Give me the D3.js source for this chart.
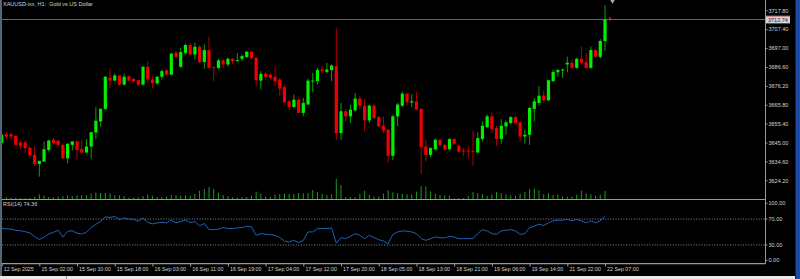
<!DOCTYPE html>
<html>
<head>
<meta charset="utf-8">
<script src="https://cdn.jsdelivr.net/npm/d3@7"></script>
<style>
  html, body { margin: 0; padding: 0; background: #000; }
  svg { display: block; }
  text { font-family: "Liberation Sans", Arial, sans-serif; font-size: 5.5px; fill: #d4d4d4; white-space: pre; }
</style>
</head>
<body>
<div class="plot"></div>
<script>
// XAUUSD H1 candles
var opens = [3644.7,3649.6,3649.6,3648.7,3645.0,3645.0,3642.2,3638.2,3633.2,3634.5,
  3640.9,3646.5,3645.9,3643.7,3636.3,3643.7,3645.6,3641.5,3639.5,3642.8,
  3650.5,3656.6,3663.5,3680.6,3679.1,3681.9,3676.9,3681.5,3680.1,3679.3,
  3676.9,3686.7,3679.7,3677.5,3681.2,3684.8,3682.4,3694.4,3686.7,3694.4,
  3698.7,3693.5,3697.7,3689.3,3695.9,3686.5,3686.1,3690.2,3688.0,3691.1,
  3689.8,3691.1,3692.0,3695.0,3691.7,3679.1,3682.8,3682.4,3681.2,3679.7,
  3675.5,3667.7,3664.6,3668.6,3661.3,3665.9,3678.8,3678.8,3685.2,3683.9,
  3684.9,3687.1,3650.2,3662.2,3659.4,3662.7,3669.2,3665.3,3657.2,3665.3,
  3659.0,3654.2,3652.0,3637.7,3659.4,3665.3,3671.9,3667.0,3667.7,3663.5,
  3642.8,3638.2,3641.3,3646.5,3643.7,3641.3,3646.9,3643.2,3640.6,3640.6,
  3640.4,3639.5,3646.9,3653.5,3659.4,3652.9,3646.9,3653.9,3655.7,3659.0,
  3656.1,3648.3,3649.3,3663.5,3666.8,3670.8,3668.3,3678.8,3683.7,3684.7,
  3688.0,3688.9,3686.1,3691.1,3689.3,3686.1,3695.9,3692.2,3700.9];
var highs = [3649.5,3650.7,3650.2,3649.0,3646.1,3646.1,3642.8,3642.8,3634.9,3645.6,
  3646.5,3647.4,3646.5,3644.6,3644.6,3645.6,3646.5,3646.5,3646.9,3650.7,
  3664.4,3663.6,3681.5,3685.8,3683.0,3681.9,3683.0,3681.9,3680.6,3679.7,
  3687.1,3689.8,3681.5,3681.5,3685.2,3685.2,3694.4,3695.4,3697.2,3699.4,
  3700.0,3700.0,3698.5,3699.0,3703.3,3687.1,3691.1,3691.1,3691.7,3691.7,
  3694.4,3693.5,3695.4,3695.4,3692.0,3684.3,3683.7,3683.0,3686.5,3680.6,
  3676.9,3668.6,3671.4,3669.5,3669.5,3680.1,3683.4,3686.1,3687.6,3688.9,
  3688.0,3707.9,3666.8,3663.5,3665.9,3672.3,3670.8,3668.6,3665.9,3665.9,
  3659.4,3659.4,3652.4,3660.3,3666.8,3673.2,3672.3,3671.4,3672.7,3664.0,
  3646.5,3642.4,3647.4,3646.9,3644.3,3647.4,3647.4,3643.7,3641.9,3643.2,
  3651.5,3650.6,3656.6,3660.3,3661.6,3654.2,3657.9,3657.0,3659.4,3659.4,
  3656.6,3652.0,3664.6,3669.5,3676.0,3673.8,3679.7,3685.2,3685.6,3685.6,
  3692.2,3690.7,3691.7,3697.8,3694.1,3697.8,3696.3,3702.0,3720.6];
var lows = [3644.5,3647.0,3646.9,3643.5,3641.3,3639.1,3636.4,3632.1,3626.2,3634.3,
  3640.0,3643.7,3642.8,3636.3,3633.6,3640.6,3635.8,3639.1,3639.1,3636.3,
  3646.9,3653.9,3663.0,3675.1,3678.8,3676.4,3676.4,3678.8,3678.2,3676.0,
  3676.4,3677.8,3675.1,3676.9,3679.7,3681.9,3681.9,3691.7,3686.1,3693.5,
  3692.6,3690.7,3688.5,3685.6,3685.8,3678.8,3685.2,3686.1,3686.7,3688.0,
  3689.8,3689.8,3691.7,3691.3,3676.0,3674.2,3679.7,3679.7,3676.0,3670.5,
  3666.8,3662.7,3664.0,3661.3,3659.4,3665.9,3672.7,3676.9,3683.0,3683.0,
  3678.8,3646.5,3646.5,3656.6,3655.7,3662.2,3663.1,3651.1,3655.7,3657.9,
  3653.5,3650.2,3634.0,3635.4,3653.9,3664.6,3665.3,3664.6,3662.7,3627.7,
  3634.5,3636.9,3640.6,3643.2,3640.6,3640.6,3643.7,3639.5,3637.7,3636.4,
  3632.1,3639.1,3645.6,3652.9,3650.2,3643.2,3644.3,3649.3,3654.8,3655.4,
  3645.6,3644.3,3643.7,3656.6,3665.3,3666.8,3667.7,3678.2,3681.2,3680.6,
  3683.7,3685.6,3685.6,3688.0,3685.6,3685.6,3691.7,3691.2,3695.5];
var closes = [3649.3,3648.3,3648.3,3643.7,3643.2,3641.9,3638.0,3633.2,3634.9,3641.3,
  3646.1,3644.6,3643.7,3636.3,3644.3,3645.6,3641.0,3639.5,3642.8,3650.7,
  3657.0,3663.6,3681.2,3679.1,3681.9,3676.9,3681.2,3679.1,3678.8,3676.9,
  3686.7,3679.7,3677.8,3681.2,3684.3,3682.4,3693.9,3692.2,3694.8,3698.7,
  3693.5,3697.7,3689.3,3695.9,3686.1,3686.0,3690.2,3688.0,3691.1,3689.8,
  3690.4,3692.6,3695.0,3691.3,3679.3,3682.8,3681.2,3680.6,3678.8,3674.7,
  3667.2,3664.6,3668.6,3661.3,3666.8,3679.1,3679.1,3684.9,3684.3,3685.2,
  3687.4,3650.2,3662.2,3659.4,3663.1,3669.2,3665.3,3657.2,3665.3,3658.5,
  3653.9,3651.7,3637.7,3659.4,3665.9,3671.9,3667.2,3667.7,3663.1,3642.4,
  3638.2,3641.9,3646.5,3643.7,3641.3,3646.9,3644.3,3640.0,3640.0,3640.0,
  3639.9,3647.4,3654.2,3659.4,3652.4,3646.9,3654.2,3656.1,3659.0,3655.7,
  3648.3,3649.3,3664.0,3667.7,3670.8,3668.3,3679.3,3683.9,3684.9,3685.2,
  3688.9,3686.1,3691.1,3688.9,3686.1,3695.9,3692.2,3700.9,3712.74];
var volumes = [500,600,400,400,300,300,300,700,1400,1000,
  600,500,700,900,1100,900,1100,1200,1100,1600,
  2000,1800,1800,1600,1100,1100,900,400,400,500,
  900,1300,1000,600,600,800,1200,1100,1000,1100,
  1000,1500,2500,3000,3600,3000,1900,1200,900,500,
  400,500,600,1000,2200,1600,800,600,1300,1500,
  1600,1500,1500,1800,1700,1800,2700,2100,1500,1200,
  1400,6000,4200,500,600,500,1500,2500,1200,700,
  800,1600,2600,2000,1700,1500,1400,1400,2200,3900,
  3800,2300,1600,1200,1000,1000,200,200,300,900,
  2100,1700,1400,900,1400,2100,1700,1400,1100,1000,
  1600,2100,3000,3200,2600,1500,1700,1200,1400,800,
  700,700,1300,2500,1700,1400,1000,1300,2400];
var rsiValues = [55.3,55.0,54.5,52.5,52.0,50.5,48.6,43.0,38.5,42.0,
  47.0,49.5,52.7,42.4,51.0,52.0,48.0,47.0,49.5,57.0,
  62.0,66.0,73.5,72.3,74.0,69.0,71.5,70.0,69.5,66.5,
  71.5,64.5,62.5,64.0,65.0,64.0,68.5,64.0,66.0,68.5,
  64.5,66.0,59.5,63.1,53.7,53.7,54.2,56.8,55.3,55.3,
  56.3,56.8,58.9,57.9,44.9,47.5,46.5,46.0,44.9,41.3,
  36.1,34.5,37.2,33.5,37.2,50.1,50.1,55.3,55.3,55.3,
  56.3,33.0,41.3,39.8,43.4,47.5,44.9,39.8,44.9,41.3,
  38.2,36.1,32.0,46.5,50.1,51.7,51.2,50.1,47.5,39.8,
  37.2,39.8,42.4,41.3,40.8,43.4,42.4,39.8,39.8,39.8,
  39.8,47.5,53.7,51.7,47.5,46.5,51.7,52.7,53.7,51.7,
  46.5,47.5,56.8,58.9,62.0,59.9,64.1,67.2,68.2,68.2,
  69.3,67.2,69.3,67.2,64.1,67.2,64.1,67.2,74.36];
// one time label every 8 bars
var timeLabels = ["12 Sep 2025","15 Sep 02:00","15 Sep 10:00","15 Sep 18:00","16 Sep 03:00",
  "16 Sep 11:00","16 Sep 19:00","17 Sep 04:00","17 Sep 12:00","17 Sep 20:00","18 Sep 05:00",
  "18 Sep 13:00","18 Sep 21:00","19 Sep 06:00","19 Sep 14:00","21 Sep 22:00","22 Sep 07:00"];
var priceTicks = [3717.80,3707.40,3697.00,3686.60,3676.20,3665.80,3655.40,3645.00,3634.60,3624.20];
var rsiTicks = [100,70,30,0];
var rsiLevels = [70,30];
var labelEvery = 8;
var bid = closes[closes.length - 1];
var rsiLast = rsiValues[rsiValues.length - 1];

var width = 800, height = 279;
var chartLeft = 2, chartRight = 765.5;

var svg = d3.select(".plot").append("svg")
  .attr("width", width).attr("height", height);

svg.append("rect").attr("width", width).attr("height", height).attr("fill", "#000");

// scales
var x = d3.scaleLinear().domain([0, 128]).range([1.6, 605]);
var priceY = d3.scaleLinear().domain([3624.2, 3717.8]).range([180.3, 10.3]);
var volY = d3.scaleLinear().domain([0, 6000]).range([199, 179]);
var rsiY = d3.scaleLinear().domain([0, 100]).range([264.5, 199.5]);

var bars = d3.range(opens.length);
var bidY = Math.round(priceY(bid)) + 0.5;

// volumes
svg.append("g").selectAll("line").data(bars).join("line")
  .attr("x1", function (i) { return x(i); })
  .attr("x2", function (i) { return x(i); })
  .attr("y1", volY(0))
  .attr("y2", function (i) { return volY(volumes[i]); })
  .attr("stroke", "#1f9a1f")
  .attr("stroke-width", 1);

// bid line
svg.append("line")
  .attr("x1", chartLeft).attr("x2", chartRight)
  .attr("y1", bidY).attr("y2", bidY)
  .attr("stroke", "#d83434").attr("stroke-width", 1.2);

// candles
var candles = svg.append("g").selectAll("g").data(bars).join("g");
candles.append("line")
  .attr("x1", function (i) { return x(i); })
  .attr("x2", function (i) { return x(i); })
  .attr("y1", function (i) { return priceY(highs[i]); })
  .attr("y2", function (i) { return priceY(lows[i]); })
  .attr("stroke", function (i) { return closes[i] >= opens[i] ? "#00a800" : "#b40000"; })
  .attr("stroke-width", 1);
candles.append("rect")
  .attr("x", function (i) { return x(i) - 1.6; })
  .attr("width", 3.2)
  .attr("y", function (i) { return priceY(Math.max(opens[i], closes[i])); })
  .attr("height", function (i) {
    return Math.max(1, Math.abs(priceY(opens[i]) - priceY(closes[i])));
  })
  .attr("fill", function (i) { return closes[i] >= opens[i] ? "#00f000" : "#f00000"; });

// small markers after the last bar
var last = opens.length - 1;
svg.append("rect")
  .attr("x", x(last) + 4).attr("y", bidY - 2)
  .attr("width", 2).attr("height", 3).attr("fill", "#e02020");
svg.append("path")
  .attr("d", d3.symbol().type(d3.symbolTriangle).size(10))
  .attr("transform", "translate(" + (x(last) + 7.5) + ",1) rotate(180)")
  .attr("fill", "#a8b0b8");

// RSI levels
svg.append("g").selectAll("line").data(rsiLevels).join("line")
  .attr("x1", chartLeft).attr("x2", chartRight)
  .attr("y1", function (d) { return rsiY(d); })
  .attr("y2", function (d) { return rsiY(d); })
  .attr("stroke", "#8c8c8c").attr("stroke-width", 1)
  .attr("stroke-dasharray", "1,1.6");

// RSI line
var rsiLine = d3.line()
  .x(function (d, i) { return x(i); })
  .y(function (d) { return rsiY(d); });
svg.append("path")
  .datum(rsiValues)
  .attr("d", rsiLine)
  .attr("fill", "none")
  .attr("stroke", "#1e62b4")
  .attr("stroke-width", 1);

// frame lines
svg.append("line").attr("x1", chartLeft).attr("x2", chartRight)
  .attr("y1", 199.5).attr("y2", 199.5).attr("stroke", "#9a9a9a").attr("stroke-width", 1.2);
svg.append("line").attr("x1", chartLeft).attr("x2", chartRight)
  .attr("y1", 263.6).attr("y2", 263.6).attr("stroke", "#9a9a9a").attr("stroke-width", 1.2);
svg.append("line").attr("x1", chartRight).attr("x2", chartRight)
  .attr("y1", 0).attr("y2", 263.6).attr("stroke", "#9a9a9a").attr("stroke-width", 1);
svg.append("rect").attr("x", 0).attr("y", 0).attr("width", 2).attr("height", 276)
  .attr("fill", "#566575");

// price axis
var priceAxis = d3.axisRight(priceY)
  .tickValues(priceTicks)
  .tickFormat(d3.format(".2f"))
  .tickSize(2).tickPadding(1);
var pa = svg.append("g").attr("transform", "translate(" + chartRight + ",0)").call(priceAxis);
pa.select(".domain").remove();
pa.selectAll("line").attr("stroke", "#9a9a9a");
pa.selectAll("text").attr("fill", "#d4d4d4").style("font-size", "5.5px").style("font-family", null);

// current price box
var bidBox = svg.append("g").attr("transform", "translate(" + (chartRight + 0.5) + "," + bidY + ")");
bidBox.append("rect").attr("x", 0).attr("y", -3.5).attr("width", 24).attr("height", 7.4)
  .attr("fill", "#cdd5dd");
bidBox.append("line").attr("x1", 0).attr("x2", 24).attr("y1", -3.5).attr("y2", -3.5)
  .attr("stroke", "#d83434").attr("stroke-width", 1);
bidBox.append("text").attr("x", 2).attr("y", 2).style("fill", "#1c2a38")
  .text(d3.format(".2f")(bid));

// RSI axis, 100 and 0 labels kept inside the panel
var rsiAxis = d3.axisRight(rsiY)
  .tickValues(rsiTicks)
  .tickFormat(d3.format(".2f"))
  .tickSize(2).tickPadding(1);
var ra = svg.append("g").attr("transform", "translate(" + chartRight + ",0)").call(rsiAxis);
ra.select(".domain").remove();
ra.selectAll(".tick").attr("transform", function (d) {
  return "translate(0," + Math.min(Math.max(rsiY(d), 203.3), 260.3) + ")";
});
ra.selectAll("line").attr("stroke", "#9a9a9a");
ra.selectAll("text").attr("fill", "#d4d4d4").style("font-size", "5.5px").style("font-family", null);

// time axis
var timeAxis = d3.axisBottom(x)
  .tickValues(timeLabels.map(function (d, k) { return k * labelEvery; }))
  .tickFormat(function (d) { return timeLabels[d / labelEvery]; })
  .tickSize(3).tickPadding(1);
var ta = svg.append("g").attr("transform", "translate(0,263.6)").call(timeAxis);
ta.select(".domain").remove();
ta.selectAll("line").attr("stroke", "#9a9a9a");
ta.selectAll("text").attr("text-anchor", "start").attr("x", 1.6)
  .attr("fill", "#d4d4d4").style("font-size", "5.3px").style("font-family", null);

// titles
svg.append("text").attr("x", 3).attr("y", 6.3)
  .text("XAUUSD-ixx, H1:  Gold vs US Dollar");
svg.append("text").attr("x", 3).attr("y", 206)
  .text("RSI(14) " + d3.format(".2f")(rsiLast));

// window chrome: tab strip and right scroll bar
svg.append("rect").attr("x", 0).attr("y", 276).attr("width", 795).attr("height", 3).attr("fill", "#e9e9e9");
svg.append("rect").attr("x", 66).attr("y", 276).attr("width", 1).attr("height", 3).attr("fill", "#9a9a9a");
svg.append("rect").attr("x", 795.5).attr("y", 0).attr("width", 4.5).attr("height", 279).attr("fill", "#1d4aa8");
</script>
</body>
</html>
